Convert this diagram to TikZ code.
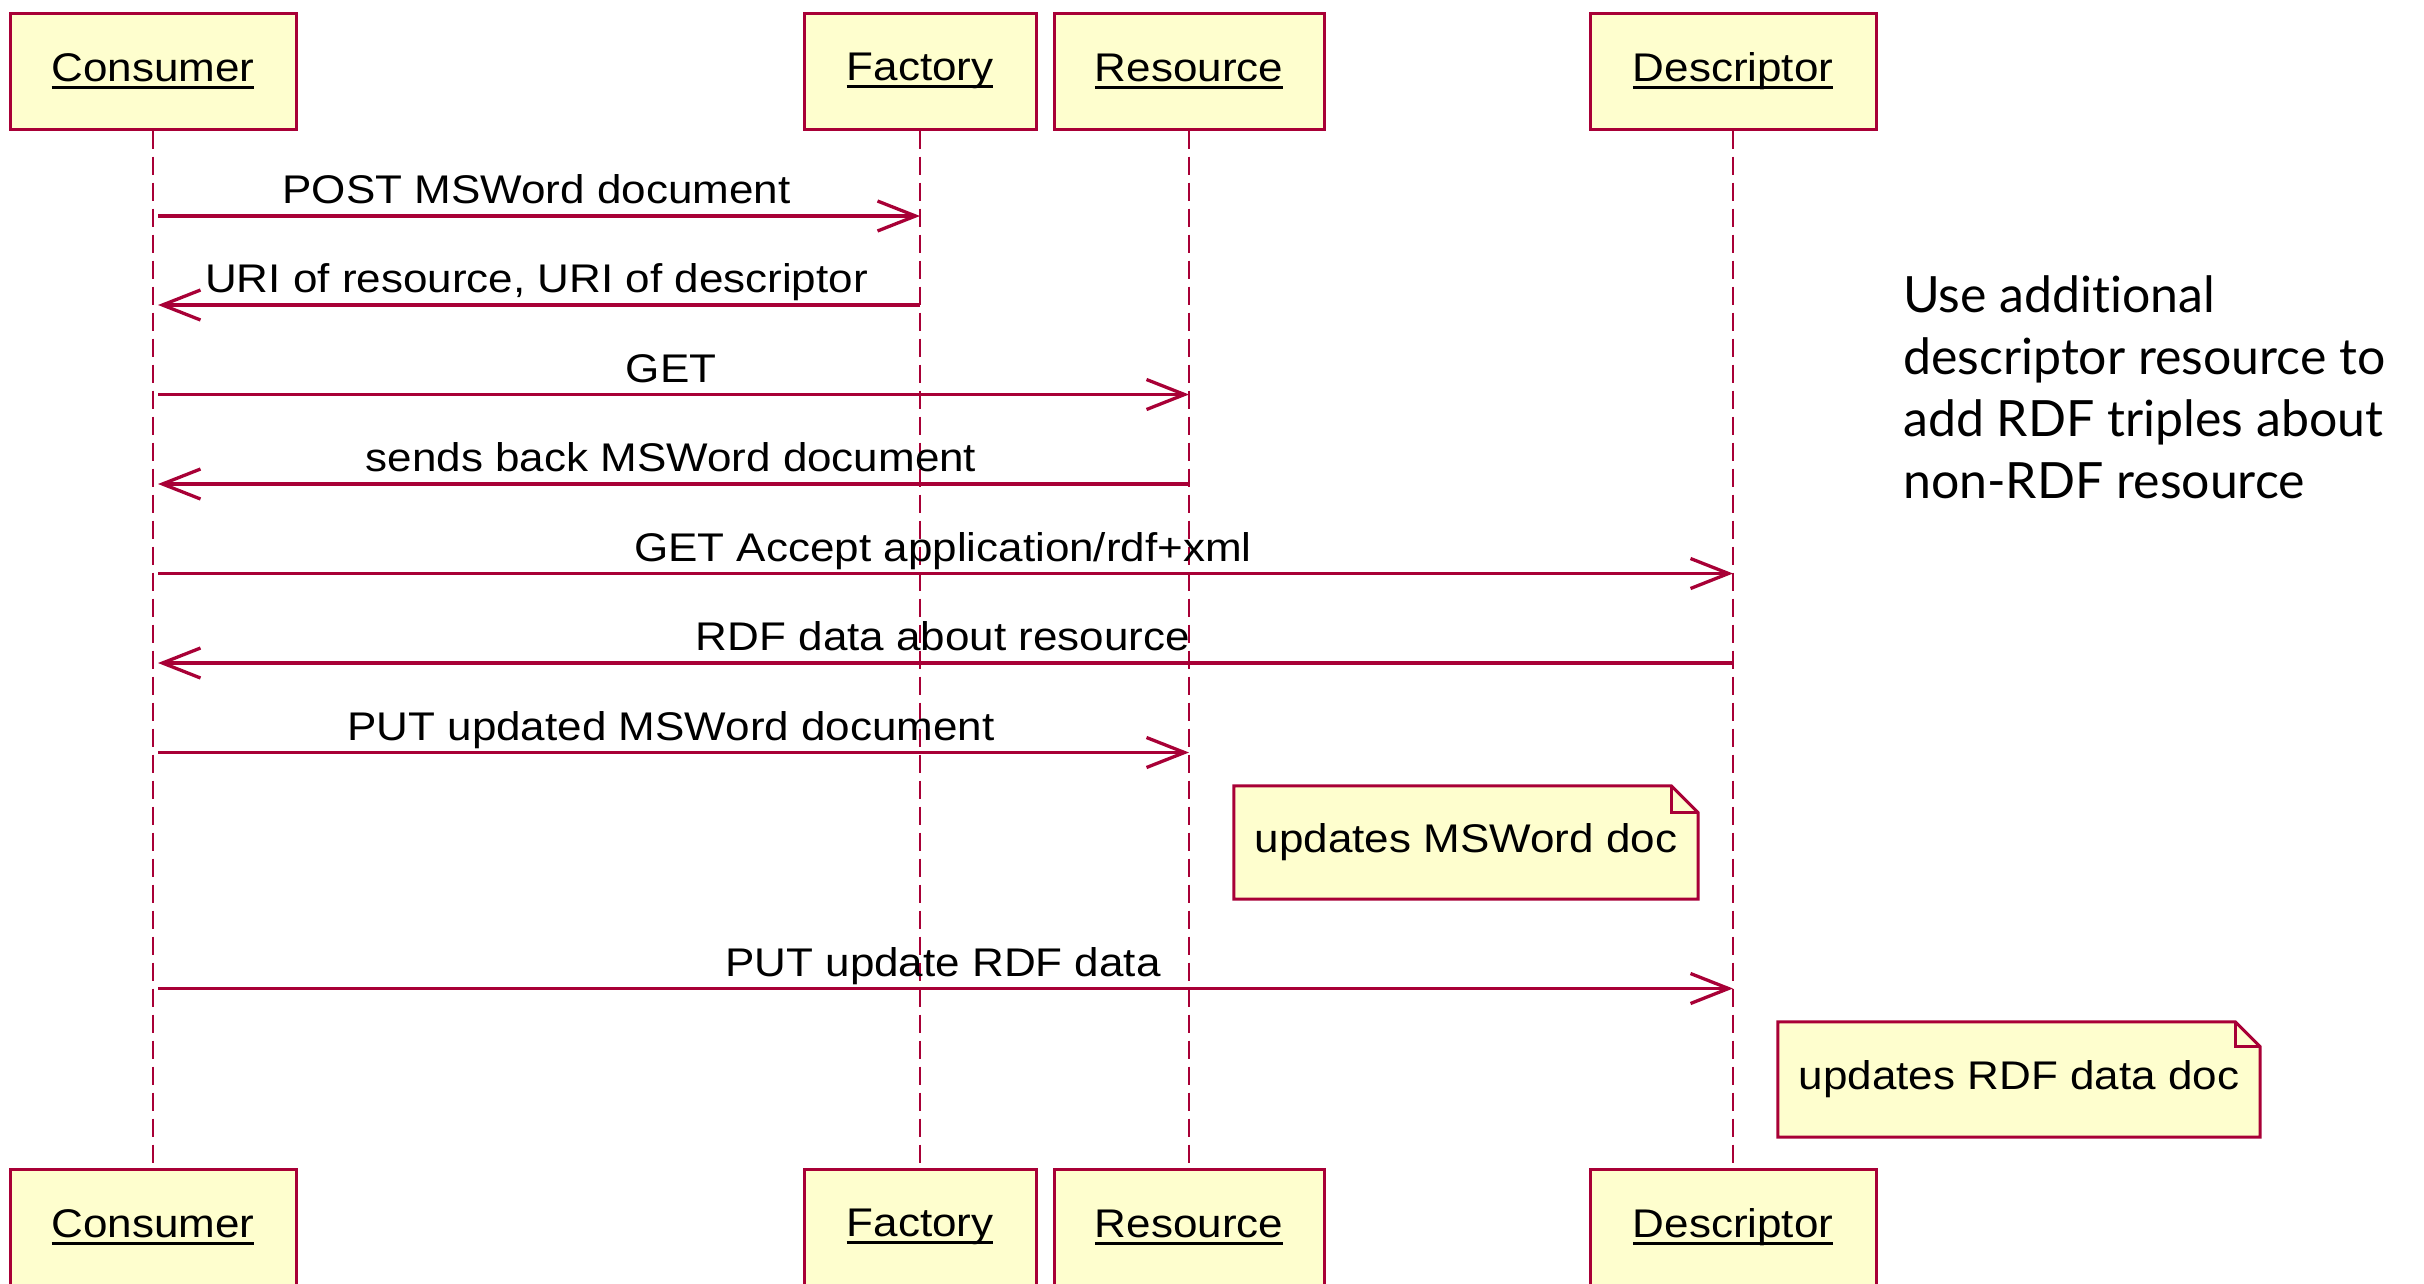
\documentclass[tikz,border=0pt]{standalone}
\usepackage{fontspec}
\setmainfont{Liberation Sans}
\newfontfamily\umlfont[FakeStretch=1.1]{Liberation Sans}
\newfontfamily\slidefont[Ligatures=NoCommon]{Lato}
\usetikzlibrary{arrows.meta,calc,backgrounds}
\definecolor{umlred}{HTML}{A80036}
\definecolor{umlfill}{HTML}{FEFECE}
% underlined participant name, rule crosses the descenders
\newcommand{\lifename}[1]{\setbox0\hbox{#1}\rlap{\rule[-7.5pt]{\wd0}{3pt}}\box0}

\begin{document}
\begin{tikzpicture}[x=1pt,y=-1pt,line join=miter,
    actor/.style={draw=umlred,fill=umlfill,line width=3pt,minimum height=116pt,inner sep=0pt,
      font=\umlfont\fontsize{40}{48}\selectfont},
    lifeline/.style={umlred,line width=2pt,dash pattern=on 18pt off 8pt},
    msg/.style={umlred,line width=3.3pt,-{Straight Barb[length=38pt,width=30pt]}},
    call/.style={msg,shorten <=5pt},
    reply/.style={msg,shorten >=5pt},
    msglabel/.style={midway,anchor=base,yshift=12.5pt,inner sep=0pt,text=black,
      font=\umlfont\fontsize{40}{48}\selectfont},
    notebox/.style={inner sep=0pt,font=\umlfont\fontsize{40}{48}\selectfont},
    notedraw/.style={draw=umlred,fill=umlfill,line width=3pt}]
  \useasboundingbox (0,0) rectangle (2424,1283);

  % participants
  \node[actor,minimum width=286pt] (consTop) at (153,71) {\lifename{Consumer}};
  \node[actor,minimum width=232pt] (factTop) at (920,71) {\lifename{Factory}};
  \node[actor,minimum width=270pt] (resTop) at (1189,71) {\lifename{Resource}};
  \node[actor,minimum width=286pt] (descTop) at (1733,71) {\lifename{Descriptor}};
  \node[actor,minimum width=286pt] (consBot) at (153,1227) {\lifename{Consumer}};
  \node[actor,minimum width=232pt] (factBot) at (920,1227) {\lifename{Factory}};
  \node[actor,minimum width=270pt] (resBot) at (1189,1227) {\lifename{Resource}};
  \node[actor,minimum width=286pt] (descBot) at (1733,1227) {\lifename{Descriptor}};

  % lifelines
  \draw[lifeline] (consTop) -- (consBot);
  \draw[lifeline] (factTop) -- (factBot);
  \draw[lifeline] (resTop) -- (resBot);
  \draw[lifeline] (descTop) -- (descBot);

  % messages
  \draw[call] (consTop |- 0,216) -- node[msglabel] {POST MSWord document} (factTop |- 0,216);
  \draw[reply] (factTop |- 0,305) -- node[msglabel] {URI of resource, URI of descriptor} (consTop |- 0,305);
  \draw[call] (consTop |- 0,394.5) -- node[msglabel] {GET} (resTop |- 0,394.5);
  \draw[reply] (resTop |- 0,484) -- node[msglabel] {sends back MSWord document} (consTop |- 0,484);
  \draw[call] (consTop |- 0,573.5) -- node[msglabel] {GET Accept application/rdf+xml} (descTop |- 0,573.5);
  \draw[reply] (descTop |- 0,663) -- node[msglabel] {RDF data about resource} (consTop |- 0,663);
  \draw[call] (consTop |- 0,752.5) -- node[msglabel] {PUT updated MSWord document} (resTop |- 0,752.5);
  \draw[call] (consTop |- 0,988.5) -- node[msglabel] {PUT update RDF data} (descTop |- 0,988.5);

  % notes
  \node[notebox,minimum width=464pt,minimum height=113pt] (noteWord) at (1466,842.5) {updates MSWord doc};
  \node[notebox,minimum width=482pt,minimum height=115pt] (noteRdf) at (2019,1079.5) {updates RDF data doc};
  \begin{scope}[on background layer]
    \draw[notedraw] (noteWord.north west) -- ($(noteWord.north east)+(-27pt,0pt)$)
      -- ($(noteWord.north east)+(0pt,-27pt)$) -- (noteWord.south east) -- (noteWord.south west) -- cycle;
    \draw[notedraw] (noteRdf.north west) -- ($(noteRdf.north east)+(-25pt,0pt)$)
      -- ($(noteRdf.north east)+(0pt,-25pt)$) -- (noteRdf.south east) -- (noteRdf.south west) -- cycle;
  \end{scope}
  \draw[umlred,line width=3pt] ($(noteWord.north east)+(-27pt,0pt)$) |- ($(noteWord.north east)+(0pt,-27pt)$);
  \draw[umlred,line width=3pt] ($(noteRdf.north east)+(-25pt,0pt)$) |- ($(noteRdf.north east)+(0pt,-25pt)$);

  % side remark
  \node[anchor=north west,align=left,inner sep=0pt,font=\slidefont\fontsize{50}{62}\selectfont] (remark) at (1903,275)
    {Use additional\\descriptor resource to\\add RDF triples about\\non-RDF resource};
\end{tikzpicture}
\end{document}
